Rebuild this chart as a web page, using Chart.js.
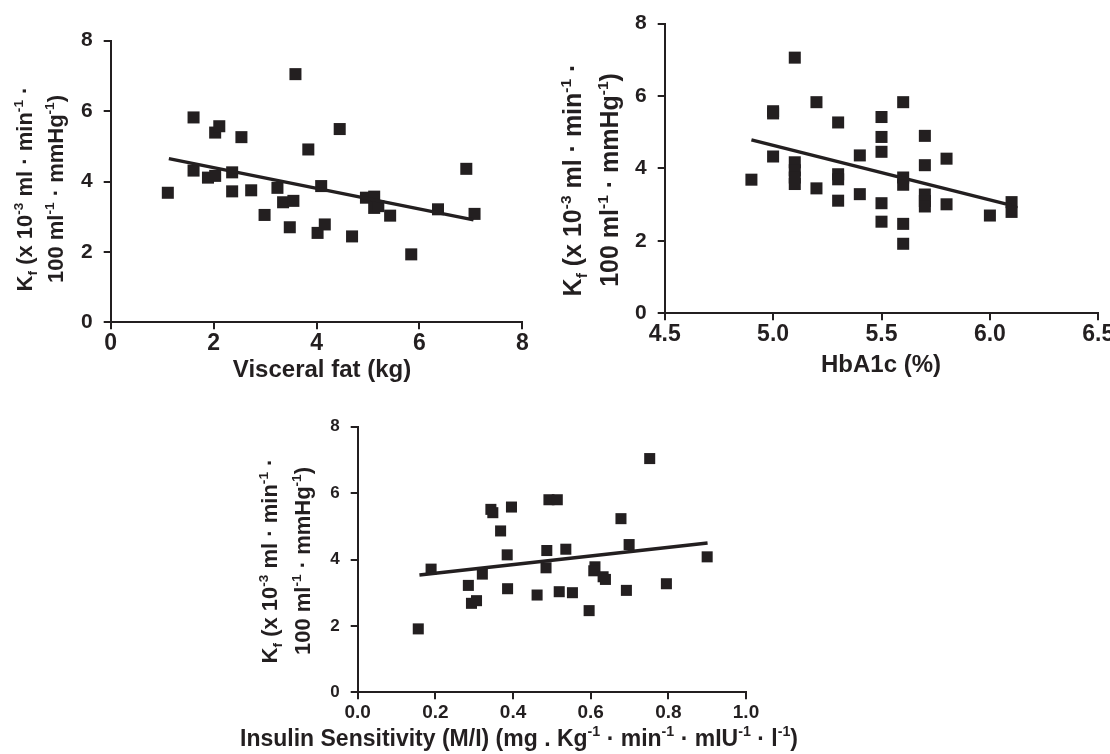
<!DOCTYPE html>
<html>
<head>
<meta charset="utf-8">
<script src="https://cdn.jsdelivr.net/npm/chart.js@4.4.0/dist/chart.umd.min.js"></script>
<style>
html,body{margin:0;padding:0;background:#fff;}
#wrap{position:relative;width:1110px;height:754px;overflow:hidden;background:#fff;}
#wrap canvas{position:absolute;left:0;top:0;}
</style>
</head>
<body>
<div id="wrap">
<canvas id="c1"></canvas>
<canvas id="c2"></canvas>
<canvas id="c3"></canvas>
</div>
<script>
// ---------- Panel 1: Visceral fat ----------
const visceralFat = [1.11,1.61,1.61,1.89,2.03,2.03,2.11,2.36,2.36,2.54,2.73,2.99,3.24,3.35,3.48,3.55,3.59,3.84,4.02,4.09,4.16,4.45,4.69,4.96,5.12,5.12,5.20,5.43,5.84,6.36,6.91,7.07];
const kfVisceral  = [3.68,5.82,4.31,4.11,4.16,5.39,5.57,4.26,3.72,5.26,3.75,3.05,3.82,3.41,2.70,3.45,7.05,4.91,2.54,3.87,2.78,5.49,2.44,3.54,3.57,3.25,3.30,3.03,1.93,3.21,4.36,3.08];
const visceralFitX = [1.13, 7.05];
const visceralFitY = [4.65, 2.91];
const visceralTicks = [0, 2, 4, 6, 8];

// ---------- Panel 2: HbA1c ----------
const hba1c   = [4.9,5.0,5.0,5.0,5.1,5.1,5.1,5.1,5.1,5.2,5.2,5.3,5.3,5.3,5.3,5.4,5.4,5.5,5.5,5.5,5.5,5.5,5.6,5.6,5.6,5.6,5.6,5.7,5.7,5.7,5.7,5.7,5.8,5.8,6.0,6.1,6.1];
const kfHba1c = [3.69,5.58,5.52,4.33,7.06,4.17,3.95,3.75,3.57,5.83,3.45,5.27,3.84,3.70,3.11,4.36,3.29,5.42,4.87,4.46,3.04,2.53,5.83,3.75,3.55,2.47,1.92,4.90,4.09,3.28,3.10,2.95,4.27,3.01,2.70,3.07,2.80];
const hba1cFitX = [4.90, 6.10];
const hba1cFitY = [4.79, 2.98];
const hba1cTicks = [4.5, 5.0, 5.5, 6.0, 6.5];
const hba1cTickLabels = ['4.5','5.0','5.5','6.0','6.5'];

// ---------- Panel 3: Insulin sensitivity ----------
const insulinSens = [0.156,0.189,0.285,0.293,0.306,0.321,0.343,0.348,0.368,0.385,0.386,0.396,0.462,0.485,0.487,0.4925,0.514,0.519,0.536,0.553,0.596,0.611,0.608,0.632,0.638,0.678,0.692,0.699,0.752,0.795,0.900];
const kfInsulin   = [1.91,3.71,3.22,2.68,2.76,3.56,5.51,5.41,4.86,4.14,3.12,5.58,2.93,3.75,4.27,5.80,5.80,3.03,4.31,3.00,2.46,3.78,3.66,3.48,3.40,5.23,3.07,4.45,7.04,3.27,4.08];
const insulinFitX = [0.159, 0.901];
const insulinFitY = [3.53, 4.50];
const insulinTicks = [0.0, 0.2, 0.4, 0.6, 0.8, 1.0];
const insulinTickLabels = ['0.0','0.2','0.4','0.6','0.8','1.0'];

// shared y axis
const kfTicks = [0, 2, 4, 6, 8];
const kfTickLabels = ['0','2','4','6','8'];

// axis title pieces
const kfTitleLine1 = [['K'],['f','sub'],[' (x 10'],['-3','sup'],[' ml · min'],['-1','sup'],[' ·']];
const kfTitleLine2 = [['100 ml'],['-1','sup'],[' · mmHg'],['-1','sup'],[')']];
const visceralTitle = [['Visceral fat (kg)']];
const hba1cTitle = [['HbA1c (%)']];
const insulinTitle = [['Insulin Sensitivity (M/I) (mg . Kg'],['-1','sup'],[' · min'],['-1','sup'],[' · mIU'],['-1','sup'],[' · l'],['-1','sup'],[')']];

const INK = '#231f20';
const FAM = '"Liberation Sans", Arial, Helvetica, sans-serif';
const CW = 1200, CH = 800;

function toPts(xs, ys){ return xs.map((x,i)=>({x:x, y:ys[i]})); }

function runFont(size, kind){
  const s = kind ? size*0.62 : size;
  return 'bold ' + s.toFixed(2) + 'px ' + FAM;
}
function runsWidth(ctx, runs, size){
  let w = 0;
  runs.forEach(r=>{ ctx.font = runFont(size, r[1]); w += ctx.measureText(r[0]).width; });
  return w;
}
function drawRuns(ctx, runs, size){
  let x = 0;
  runs.forEach(r=>{
    ctx.font = runFont(size, r[1]);
    let dy = 0;
    if (r[1]==='sup') dy = -size*0.42;
    if (r[1]==='sub') dy = size*0.22;
    ctx.fillText(r[0], x, dy);
    x += ctx.measureText(r[0]).width;
  });
}

const richTitlePlugin = {
  id: 'richTitles',
  afterDraw(chart){
    const items = chart.options.plugins.richTitles && chart.options.plugins.richTitles.items;
    if (!items) return;
    const ctx = chart.ctx;
    items.forEach(it=>{
      ctx.save();
      ctx.fillStyle = INK;
      ctx.textBaseline = 'alphabetic';
      ctx.textAlign = 'left';
      const w = runsWidth(ctx, it.runs, it.size);
      ctx.translate(it.x, it.y);
      if (it.rot) ctx.rotate(-Math.PI/2);
      ctx.translate(-w/2, 0);
      drawRuns(ctx, it.runs, it.size);
      ctx.restore();
    });
  }
};

function axisCommon(ticksArr, labels, fontSize, pad){
  return {
    type: 'linear',
    min: ticksArr[0],
    max: ticksArr[ticksArr.length-1],
    afterBuildTicks: s => { s.ticks = ticksArr.map(v=>({value:v})); },
    grid: { display:true, drawOnChartArea:false, drawTicks:true, tickLength:7, color:INK, lineWidth:2 },
    border: { display:true, color:INK, width:2 },
    ticks: {
      color: INK, padding: pad, autoSkip:false, maxRotation:0, minRotation:0,
      font: { family: FAM, size: fontSize, weight:'bold' },
      callback: (v, i) => labels[i]
    }
  };
}

function makePanel(id, o){
  const cv = document.getElementById(id);
  cv.width = CW; cv.height = CH;
  cv.style.width = CW+'px'; cv.style.height = CH+'px';
  const yW = 60, xH = 50;
  const xScale = axisCommon(o.xTicks, o.xLabels, o.xFont, o.xPad);
  xScale.afterFit = s => { s.height = xH; };
  const yScale = axisCommon(kfTicks, kfTickLabels, o.yFont, o.yPad);
  yScale.afterFit = s => { s.width = yW; };
  return new Chart(cv, {
    type: 'scatter',
    data: {
      datasets: [
        { data: toPts(o.xs, o.ys), pointStyle:'rect', pointRadius:o.r, pointHoverRadius:o.r,
          backgroundColor: INK, borderWidth:0, showLine:false, clip:false, order:2 },
        { data: toPts(o.fitX, o.fitY), showLine:true, pointRadius:0, borderColor: INK,
          borderWidth: 3.5, fill:false, order:1, clip:false }
      ]
    },
    options: {
      responsive:false, animation:false, devicePixelRatio: 1,
      layout: { autoPadding:false, padding: {
        left: o.area.l - yW, top: o.area.t, right: CW - o.area.r, bottom: CH - o.area.b - xH } },
      scales: { x: xScale, y: yScale },
      plugins: { legend:{display:false}, tooltip:{enabled:false}, richTitles: { items: o.titles } }
    },
    plugins: [richTitlePlugin]
  });
}

makePanel('c1', {
  xs: visceralFat, ys: kfVisceral, fitX: visceralFitX, fitY: visceralFitY,
  xTicks: visceralTicks, xLabels: visceralTicks.map(String), xFont: 23, yFont: 21, xPad: 1, yPad: 11, r: 8.5,
  area: { l: 110.7, t: 40.7, r: 522.4, b: 322.3 },
  titles: [
    { runs: kfTitleLine1, x: 32, y: 189, rot: true, size: 22 },
    { runs: kfTitleLine2, x: 63, y: 189, rot: true, size: 22 },
    { runs: visceralTitle, x: 322, y: 377, size: 24 }
  ]
});

makePanel('c2', {
  xs: hba1c, ys: kfHba1c, fitX: hba1cFitX, fitY: hba1cFitY,
  xTicks: hba1cTicks, xLabels: hba1cTickLabels, xFont: 23, yFont: 21, xPad: 1, yPad: 11, r: 8.5,
  area: { l: 664.7, t: 18, r: 1098.3, b: 313.3 },
  titles: [
    { runs: kfTitleLine1, x: 581, y: 180, rot: true, size: 25 },
    { runs: kfTitleLine2, x: 618, y: 180, rot: true, size: 25 },
    { runs: hba1cTitle, x: 881, y: 372, size: 24 }
  ]
});

makePanel('c3', {
  xs: insulinSens, ys: kfInsulin, fitX: insulinFitX, fitY: insulinFitY,
  xTicks: insulinTicks, xLabels: insulinTickLabels, xFont: 19, yFont: 17, xPad: 2, yPad: 11, r: 7.8,
  area: { l: 357.7, t: 426.7, r: 746, b: 692.3 },
  titles: [
    { runs: kfTitleLine1, x: 277, y: 561, rot: true, size: 22 },
    { runs: kfTitleLine2, x: 310, y: 561, rot: true, size: 22 },
    { runs: insulinTitle, x: 519, y: 746, size: 23 }
  ]
});
</script>
</body>
</html>
